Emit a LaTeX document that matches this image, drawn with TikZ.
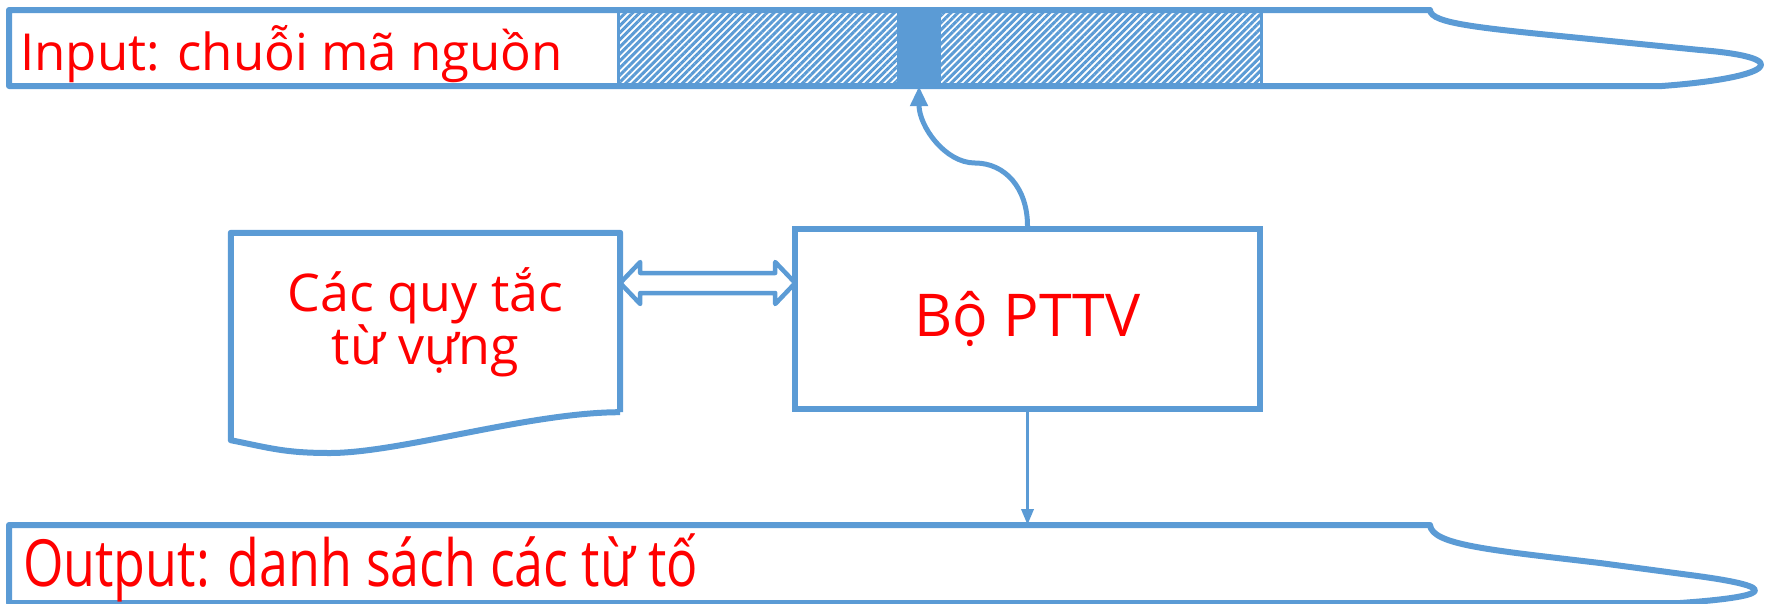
\documentclass[tikz,border=0pt]{standalone}
\usepackage{fontspec}
\setmainfont{Open Sans}
\newfontfamily\narrowfont[FakeStretch=0.8]{Open Sans}
\usepackage{tikz}
\usetikzlibrary{positioning,arrows.meta,patterns.meta}
\definecolor{tape}{HTML}{5B9BD5}
\definecolor{txt}{HTML}{FF0000}
\tikzset{
  edge/.style={draw=tape,line width=6pt,line join=round},
  lbl/.style={text=txt,font=\fontsize{51}{56}\selectfont,inner sep=0pt,anchor=base west},
  box/.style={rectangle,draw=tape,line width=6pt,text=txt,align=center,font=\fontsize{59}{64}\selectfont,minimum width=465pt,minimum height=180pt},
  doc/.style={rectangle,text=txt,align=center,font=\fontsize{52}{50}\selectfont,minimum width=389pt,minimum height=179pt},
  flow/.style={-{Triangle[length=20pt,width=17pt]},draw=tape,line width=5pt},
  thinflow/.style={-{Triangle[length=16pt,width=12pt]},draw=tape,line width=3.5pt},
}
\begin{document}
\begin{tikzpicture}[x=1pt,y=-1pt]
  \useasboundingbox (0,0) rectangle (1768,603);
  % input tape
  \fill[pattern={Lines[angle=45,distance=5pt,line width=3pt]},pattern color=tape] (618,10) rectangle (1261,86);
  \draw[tape,line width=3pt] (618,10) -- (618,86) (1261,10) -- (1261,86);
  \node[fill=tape,minimum width=44pt,minimum height=76pt,inner sep=0pt] (cell) at (919,48) {};
  \draw[edge] (9,10) -- (1430,10) .. controls (1431,24) and (1480,28) .. (1600,40) -- (1700,50) .. controls (1800,58) and (1770,78) .. (1662,86) -- (9,86) -- cycle;
  \node[lbl] (in) at (20,70) {Input: chuỗi mã nguồn};
  % output tape
  \coordinate (otape) at (9,525);
  \draw[edge] (otape) -- (1430,525) .. controls (1432,545) and (1490,550) .. (1600,563) -- (1690,575) .. controls (1790,588) and (1765,597) .. (1680,603) -- (9,603) -- cycle;
  \node[lbl,font=\narrowfont\fontsize{65}{70}\selectfont] (out) at (23,586) {Output: danh sách các từ tố};
  % lexer and rules
  \node[box] (pttv) at (1027.5,319) {Bộ PTTV};
  \node[doc] (rules) at (425.5,322.5) {Các quy tắc\\từ vựng};
  \draw[edge] (rules.south east) -- (rules.north east) -- (rules.north west) -- ([yshift=-28pt]rules.south west) .. controls +(40,8) and +(-45,0) .. (330,453) .. controls +(70,0) and +(-90,0) .. (rules.south east);
  \draw[edge,line width=4.5pt] ([yshift=36pt]pttv.west -| rules.east) -- ++(20,-21) -- ++(0,11) -- ++(135,0) -- ++(0,-11) -- ++(20,21) -- ++(-20,21) -- ++(0,-11) -- ++(-135,0) -- ++(0,11) -- cycle;
  \draw[flow] (pttv.north) .. controls +(0,-38) and +(30,0) .. (975,163) .. controls +(-30,0) and +(0,40) .. (cell.south);
  \draw[thinflow] (pttv.south) -- (pttv.south |- otape);
\end{tikzpicture}
\end{document}
